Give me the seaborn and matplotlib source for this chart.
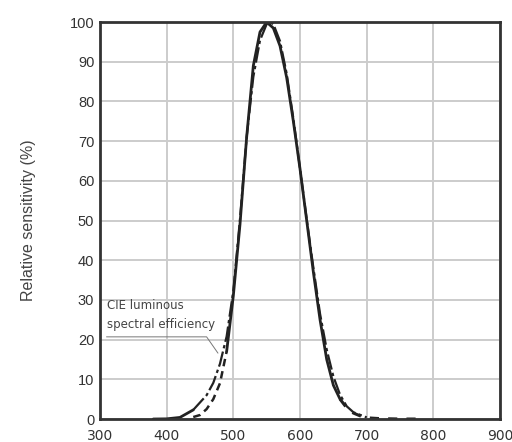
import matplotlib
matplotlib.use("Agg")
import matplotlib.pyplot as plt
import seaborn as sns
import numpy as np

# Sensor spectral response (solid, dashed in tails)
sensor_wl = [440, 450, 460, 470, 480, 490, 500, 510, 520, 530, 540, 550, 560, 570,
             580, 590, 600, 610, 620, 630, 640, 650, 660, 670, 680, 690, 700, 720, 750, 780]
sensor_val = [0.5, 1.0, 2.5, 5.0, 9.0, 17.0, 31.0, 49.0, 71.0, 89.0, 97.5, 100.0, 98.5, 94.0,
              86.0, 75.0, 63.0, 50.0, 37.0, 25.0, 15.0, 8.5, 5.0, 2.8, 1.5, 0.8, 0.3, 0.1, 0.0, 0.0]
solid_range = (490, 660)

# CIE luminous spectral efficiency V(lambda)
cie_wl = [380, 400, 420, 440, 460, 470, 480, 490, 500, 510, 520, 530, 540, 550, 555,
          560, 570, 580, 590, 600, 610, 620, 630, 640, 650, 660, 670, 680, 700]
cie_val = [0.0, 0.04, 0.4, 2.3, 6.0, 9.1, 13.9, 20.8, 32.3, 50.3, 71.0, 86.2, 95.4, 99.5, 100.0,
           99.5, 95.2, 87.0, 75.7, 63.1, 50.3, 38.1, 26.5, 17.5, 10.7, 6.1, 3.2, 1.7, 0.4]
cie_solid_until = 440

x_ticks = [300, 400, 500, 600, 700, 800, 900]
y_ticks = [0, 10, 20, 30, 40, 50, 60, 70, 80, 90, 100]

sns.set_theme(style="white")
plt.rcParams['font.family'] = ['Liberation Sans', 'DejaVu Sans']

fig = plt.figure(figsize=(5.12, 4.42), dpi=100)
ax = fig.add_axes([0.195, 0.052, 0.782, 0.898])

sw = np.array(sensor_wl, dtype=float)
sv = np.array(sensor_val, dtype=float)
lo, hi = solid_range
m_solid = (sw >= lo) & (sw <= hi)
m_left = sw <= lo
m_right = sw >= hi

cw = np.array(cie_wl, dtype=float)
cv = np.array(cie_val, dtype=float)
c_lo = cw <= cie_solid_until
c_hi = cw >= cie_solid_until

# CIE curve (solid foot, dash-dot above)
sns.lineplot(x=cw[c_lo], y=cv[c_lo], ax=ax, color="#222222", lw=2.0, sort=False)
sns.lineplot(x=cw[c_hi], y=cv[c_hi], ax=ax, color="#222222", lw=1.6,
             linestyle=(0, (7, 1.5, 1.5, 1.5)), sort=False)
# sensor tails (dashed)
sns.lineplot(x=sw[m_left], y=sv[m_left], ax=ax, color="#222222", lw=1.8,
             linestyle=(0, (3, 2)), sort=False)
sns.lineplot(x=sw[m_right], y=sv[m_right], ax=ax, color="#222222", lw=2.2,
             linestyle=(0, (3, 3)), sort=False)
# sensor main (solid)
sns.lineplot(x=sw[m_solid], y=sv[m_solid], ax=ax, color="#222222", lw=2.0, sort=False)

ax.set_xlim(300, 900)
ax.set_ylim(0, 100)
ax.set_xticks(x_ticks)
ax.set_yticks(y_ticks)
ax.set_xticklabels([str(v) for v in x_ticks], fontsize=10, color="#333333",
                   family=['DejaVu Sans'])
ax.set_yticklabels([str(v) for v in y_ticks], fontsize=10.5, color="#333333")
ax.tick_params(axis='y', length=0, pad=4)
ax.tick_params(axis='x', length=0, pad=7)
ax.grid(True, color="#cccccc", lw=1.4)
ax.set_axisbelow(True)
for s in ax.spines.values():
    s.set_color("#333333")
    s.set_linewidth(2.0)
ax.set_xlabel("")
ax.set_ylabel("Relative sensitivity (%)", fontsize=11.5, color="#444444", labelpad=24)

# annotation
ax.text(310, 28.7, "CIE luminous", fontsize=8.5, color="#444444",
        family=['Liberation Sans Narrow', 'DejaVu Sans'], va='center')
ax.text(310, 23.8, "spectral efficiency", fontsize=8.5, color="#444444",
        family=['Liberation Sans Narrow', 'DejaVu Sans'], va='center')
ax.plot([310, 460, 477], [20.7, 20.7, 16.6], color="#777777", lw=0.7)

fig.savefig("out.png", dpi=100)
